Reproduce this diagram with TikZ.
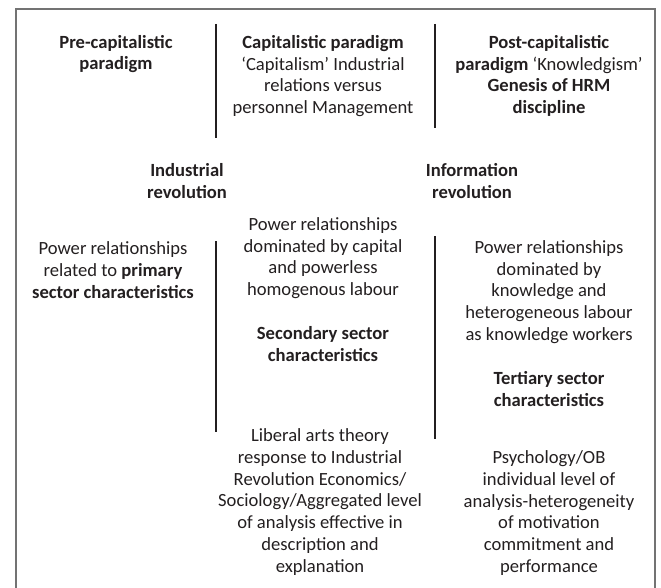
\documentclass[tikz,border=0pt]{standalone}
\usepackage{fontspec}
\setmainfont{Carlito}
\definecolor{inkgray}{HTML}{231F20}
\begin{document}
\begin{tikzpicture}[x=1pt,y=-1pt,
  txt/.style={align=center,inner sep=0pt,text=inkgray,font=\fontsize{18.6}{21.7}\selectfont},
  divider/.style={line width=1.2pt,inkgray},
  frame/.style={line width=1.3pt,black!55}]
\useasboundingbox (0,0) rectangle (661,588);
\draw[frame] (16,588) -- (16,9) -- (655,9) -- (655,588);
% column dividers
\draw[divider] (216,24) -- (216,138);
\draw[divider] (435,24) -- (435,128);
\draw[divider] (216,241) -- (216,432);
\draw[divider] (435,236) -- (435,439);
% paradigms
\node[txt] (precap) at (116,54) {\textbf{Pre-capitalistic}\\\textbf{paradigm}};
\node[txt] (cap) at (323,76) {\textbf{Capitalistic paradigm}\\`Capitalism' Industrial\\relations versus\\personnel Management};
\node[txt] (postcap) at (549,76) {\textbf{Post-capitalistic}\\\textbf{paradigm} `Knowledgism'\\\textbf{Genesis of HRM}\\\textbf{discipline}};
% revolutions
\node[txt] (indrev) at (187,181) {\textbf{Industrial}\\\textbf{revolution}};
\node[txt] (inforev) at (472,181) {\textbf{Information}\\\textbf{revolution}};
% power relationships
\node[txt] (primary) at (113,270) {Power relationships\\related to \textbf{primary}\\\textbf{sector characteristics}};
\node[txt] (capital) at (323,258) {Power relationships\\dominated by capital\\and powerless\\homogenous labour};
\node[txt] (secondary) at (323,344) {\textbf{Secondary sector}\\\textbf{characteristics}};
\node[txt] (knowledge) at (549,292) {Power relationships\\dominated by\\knowledge and\\heterogeneous labour\\as knowledge workers};
\node[txt] (tertiary) at (549,389) {\textbf{Tertiary sector}\\\textbf{characteristics}};
% disciplines
\node[txt] (liberal) at (320,502) {Liberal arts theory\\response to Industrial\\Revolution Economics/\\Sociology/Aggregated level\\of analysis effective in\\description and\\explanation};
\node[txt] (psych) at (549,513) {Psychology/OB\\individual level of\\analysis-heterogeneity\\of motivation\\commitment and\\performance};
\end{tikzpicture}
\end{document}
